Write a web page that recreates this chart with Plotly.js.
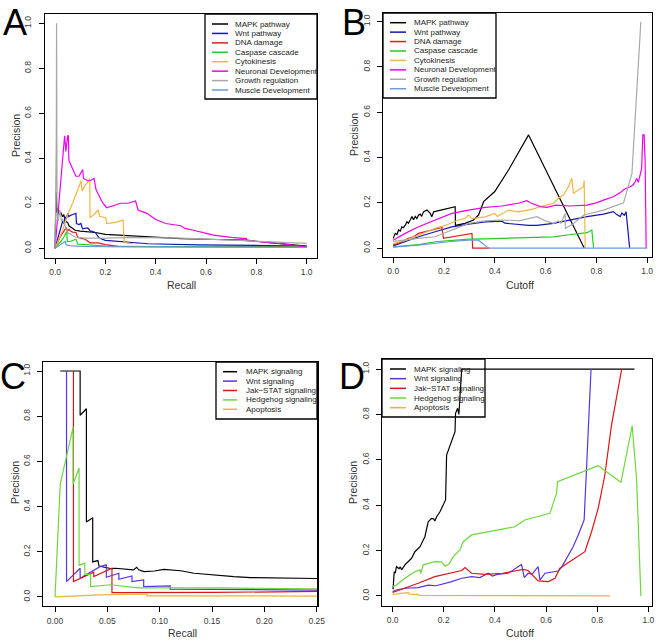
<!DOCTYPE html>
<html><head><meta charset="utf-8">
<script src="https://cdn.plot.ly/plotly-3.0.1.min.js"></script>
<style>html,body{margin:0;padding:0;background:#fff}#chart{width:661px;height:641px}</style>
</head><body><div id="chart"></div>
<script>
// ---------- Panel A: Precision vs Recall (pathways) ----------
const namesAB = ['MAPK pathway','Wnt pathway','DNA damage','Caspase cascade','Cytokinesis','Neuronal Development','Growth regulation','Muscle Development'];
const aMapkX = [0,0.004,0.007,0.012,0.016,0.022,0.03,0.035,0.04,0.05,0.055,0.07,0.08,0.1,0.12,0.14,0.16,0.2,0.26,0.3,0.35,0.42,0.5,0.6,0.7,0.76,0.85,1.0];
const aMapkY = [0,0.25,0.16,0.18,0.15,0.16,0.14,0.15,0.12,0.115,0.1,0.09,0.08,0.076,0.075,0.072,0.07,0.062,0.058,0.055,0.05,0.045,0.043,0.04,0.036,0.036,0.025,0.01];
const aWntX = [0,0.015,0.025,0.03,0.035,0.04,0.045,0.05,0.055,0.06,0.07,0.083,0.085,0.095,0.103,0.109,0.13,0.14,0.16,0.175,0.2,0.25,0.31,0.37,0.57,1.0];
const aWntY = [0,0.06,0.1,0.12,0.11,0.14,0.13,0.155,0.14,0.145,0.15,0.155,0.11,0.105,0.11,0.086,0.09,0.077,0.07,0.045,0.035,0.03,0.024,0.02,0.015,0.01];
const aDnaX = [0,0.02,0.045,0.048,0.055,0.06,0.07,0.083,0.09,0.1,0.12,0.139,0.17,0.2,0.25,0.4,1.0];
const aDnaY = [0,0.05,0.093,0.075,0.085,0.078,0.072,0.07,0.05,0.045,0.04,0.024,0.024,0.016,0.008,0.008,0.007];
const aCaspX = [0,0.03,0.047,0.048,0.06,0.083,0.09,0.12,0.2,0.4,1.0];
const aCaspY = [0,0.04,0.075,0.03,0.03,0.04,0.018,0.015,0.01,0.007,0.005];
const aCytoX = [0,0.013,0.03,0.05,0.07,0.09,0.1,0.104,0.107,0.12,0.134,0.138,0.139,0.155,0.171,0.177,0.202,0.205,0.24,0.27,0.275,0.31];
const aCytoY = [0,0.035,0.08,0.15,0.2,0.26,0.29,0.3,0.255,0.28,0.3,0.31,0.135,0.15,0.17,0.142,0.135,0.11,0.115,0.125,0.025,0.02];
const aNeurX = [0,0.02,0.038,0.043,0.05,0.053,0.055,0.063,0.075,0.083,0.095,0.1,0.11,0.113,0.13,0.14,0.155,0.163,0.177,0.19,0.205,0.23,0.26,0.29,0.32,0.33,0.365,0.4,0.44,0.5,0.516,0.55,0.6,0.63,0.7,0.76,0.762,0.9,1.0];
const aNeurY = [0,0.25,0.5,0.43,0.5,0.5,0.39,0.37,0.34,0.32,0.32,0.33,0.35,0.31,0.3,0.3,0.31,0.26,0.225,0.2,0.18,0.19,0.2,0.2,0.21,0.17,0.155,0.128,0.11,0.1,0.088,0.08,0.066,0.058,0.048,0.043,0.034,0.02,0.006];
const aGrowX = [0,0.005,0.006,0.007,0.008,0.012,0.02,0.025,0.03,0.04,0.05,0.08,0.12,0.2,0.3,0.5,0.7,0.85,1.0];
const aGrowY = [0,0.5,1.0,0.5,0.15,0.12,0.17,0.12,0.13,0.1,0.07,0.05,0.045,0.045,0.048,0.045,0.035,0.03,0.022];
const aMuscX = [0,0.04,0.045,0.06,0.1,0.3,1.0];
const aMuscY = [0,0.03,0.015,0.012,0.008,0.006,0.004];

// ---------- Panel B: Precision vs Cutoff (pathways) ----------
const bMapkX = [0,0.008,0.015,0.021,0.028,0.034,0.04,0.047,0.054,0.06,0.067,0.074,0.08,0.087,0.093,0.1,0.106,0.112,0.119,0.133,0.146,0.152,0.159,0.2,0.244,0.245,0.283,0.316,0.336,0.356,0.4,0.454,0.533,0.752];
const bMapkY = [0.043,0.065,0.06,0.08,0.075,0.094,0.09,0.1,0.116,0.11,0.124,0.139,0.125,0.14,0.13,0.146,0.15,0.14,0.16,0.168,0.153,0.138,0.16,0.172,0.183,0.1,0.109,0.124,0.146,0.205,0.25,0.345,0.5,0];
const bWntX = [0,0.05,0.1,0.165,0.231,0.297,0.362,0.428,0.44,0.533,0.566,0.631,0.697,0.763,0.828,0.867,0.88,0.894,0.9,0.91,0.917,0.92,0.931];
const bWntY = [0.01,0.03,0.05,0.072,0.094,0.106,0.116,0.119,0.11,0.1,0.1,0.109,0.124,0.139,0.15,0.161,0.148,0.139,0.155,0.145,0.161,0.125,0];
const bDnaX = [0,0.034,0.06,0.08,0.1,0.12,0.152,0.178,0.192,0.198,0.251,0.27,0.31,0.313,0.38];
const bDnaY = [0.013,0.028,0.043,0.05,0.065,0.07,0.08,0.087,0.091,0.043,0.053,0.058,0.065,0,0];
const bCaspX = [0,0.1,0.165,0.231,0.297,0.362,0.45,0.5,0.559,0.631,0.7,0.763,0.782,0.789];
const bCaspY = [0.005,0.015,0.028,0.035,0.04,0.041,0.044,0.043,0.047,0.05,0.06,0.068,0.08,0];
const bCytoX = [0,0.05,0.1,0.165,0.205,0.257,0.28,0.297,0.31,0.362,0.4,0.41,0.454,0.49,0.546,0.579,0.631,0.651,0.67,0.69,0.703,0.71,0.749,0.752,0.756];
const bCytoY = [0.02,0.035,0.057,0.087,0.1,0.124,0.13,0.146,0.13,0.138,0.153,0.14,0.168,0.16,0.171,0.183,0.198,0.22,0.234,0.271,0.308,0.242,0.271,0.298,0];
const bNeurX = [0,0.047,0.1,0.165,0.231,0.297,0.362,0.428,0.493,0.526,0.54,0.579,0.605,0.64,0.697,0.763,0.8,0.828,0.867,0.894,0.91,0.933,0.945,0.953,0.959,0.965,0.972,0.978,0.983,0.988,0.992,0.996];
const bNeurY = [0.035,0.065,0.094,0.124,0.153,0.168,0.18,0.186,0.198,0.209,0.2,0.183,0.18,0.19,0.186,0.19,0.2,0.212,0.227,0.245,0.26,0.271,0.28,0.293,0.308,0.29,0.33,0.35,0.5,0.5,0.382,0];
const bGrowX = [0,0.05,0.1,0.165,0.231,0.297,0.362,0.428,0.5,0.559,0.566,0.6,0.631,0.65,0.66,0.677,0.678,0.71,0.75,0.828,0.907,0.94,0.975];
const bGrowY = [0.03,0.035,0.043,0.05,0.08,0.109,0.12,0.124,0.121,0.136,0.139,0.12,0.109,0.12,0.11,0.153,0.087,0.109,0.146,0.168,0.2,0.33,1.0];
const bMuscX = [0,0.1,0.218,0.297,0.336,0.375,1.0];
const bMuscY = [0.004,0.013,0.028,0.035,0.035,0,0];

// ---------- Panel C: Precision vs Recall (signaling) ----------
const namesCD = ['MAPK signaling','Wnt signaling','Jak\u2212STAT signaling','Hedgehog signaling','Apoptosis'];
const cMapkX = [0.005,0.024,0.024,0.03,0.03,0.036,0.036,0.041,0.042,0.054,0.0575,0.065,0.075,0.078,0.08,0.085,0.095,0.104,0.12,0.133,0.152,0.171,0.187,0.26];
const cMapkY = [1.0,1.0,0.804,0.833,0.332,0.35,0.155,0.161,0.137,0.125,0.127,0.125,0.12,0.131,0.12,0.112,0.115,0.122,0.116,0.105,0.097,0.09,0.086,0.081];
const cWntX = [0.011,0.011,0.024,0.024,0.043,0.049,0.049,0.061,0.061,0.0735,0.0735,0.0847,0.0847,0.11,0.11,0.26];
const cWntY = [1.0,0.068,0.127,0.083,0.134,0.142,0.087,0.105,0.078,0.093,0.068,0.075,0.046,0.049,0.035,0.03];
const cJakX = [0.0176,0.0176,0.037,0.037,0.0544,0.0544,0.15,0.26];
const cJakY = [1.0,0.068,0.11,0.09,0.127,0.019,0.02,0.025];
const cHedgX = [0,0.005,0.0173,0.0173,0.023,0.023,0.0285,0.0285,0.034,0.034,0.053,0.079,0.16,0.26];
const cHedgY = [0,0.5,0.752,0.5,0.571,0.14,0.15,0.1,0.1,0.046,0.054,0.04,0.04,0.035];
const cApopX = [0,0.043,0.088,0.088,0.26];
const cApopY = [0,0.009,0.013,0.005,0.004];

// ---------- Panel D: Precision vs Cutoff (signaling) ----------
const dMapkX = [0,0.002,0.006,0.01,0.015,0.025,0.03,0.035,0.048,0.061,0.074,0.087,0.107,0.126,0.139,0.152,0.16,0.165,0.172,0.185,0.198,0.207,0.211,0.231,0.244,0.246,0.254,0.259,0.263,0.27,0.946];
const dMapkY = [0.03,0.034,0.107,0.1,0.129,0.12,0.128,0.115,0.137,0.151,0.166,0.195,0.217,0.261,0.327,0.342,0.34,0.33,0.349,0.371,0.401,0.423,0.621,0.68,0.724,0.805,0.827,0.8,0.871,1.0,1.0];
const dWntX = [0,0.01,0.048,0.1,0.139,0.17,0.231,0.27,0.309,0.341,0.374,0.39,0.41,0.452,0.504,0.515,0.53,0.545,0.569,0.576,0.596,0.648,0.66,0.68,0.706,0.726,0.749,0.759,0.776];
const dWntY = [0.019,0.025,0.034,0.037,0.048,0.045,0.063,0.078,0.085,0.081,0.1,0.088,0.095,0.1,0.139,0.081,0.1,0.095,0.129,0.07,0.1,0.11,0.125,0.166,0.217,0.269,0.335,0.577,1.0];
const dJakX = [0,0.01,0.048,0.1,0.165,0.231,0.27,0.283,0.309,0.361,0.43,0.511,0.53,0.569,0.609,0.635,0.654,0.752,0.778,0.804,0.83,0.856,0.896];
const dJakY = [0.015,0.019,0.034,0.056,0.085,0.1,0.112,0.125,0.1,0.095,0.1,0.117,0.112,0.066,0.063,0.078,0.122,0.195,0.283,0.386,0.533,0.753,1.0];
const dHedgX = [0,0.015,0.048,0.087,0.107,0.11,0.12,0.165,0.19,0.205,0.22,0.237,0.263,0.276,0.309,0.478,0.517,0.615,0.641,0.645,0.804,0.893,0.937,0.954,0.971];
const dHedgY = [0.041,0.048,0.078,0.107,0.115,0.1,0.137,0.151,0.15,0.132,0.14,0.173,0.203,0.239,0.269,0.305,0.335,0.364,0.452,0.504,0.574,0.501,0.75,0.518,0];
const dApopX = [0,0.035,0.061,0.065,0.1,0.105,0.85];
const dApopY = [0.007,0.012,0.015,0.008,0.007,0.002,0];

// ---------- styles ----------
const colAB = ['#000000','#1414b8','#e01c1c','#22cc22','#f2b640','#ee00ee','#a8a8a8','#6d9bd6'];
const colCD = ['#000000','#5a32e6','#dd1414','#6ad83a','#f2b030'];

const W = 661, H = 641;
const PX = v => v / W, PY = v => 1 - v / H;

const seriesA = [[aMapkX,aMapkY],[aWntX,aWntY],[aDnaX,aDnaY],[aCaspX,aCaspY],[aCytoX,aCytoY],[aNeurX,aNeurY],[aGrowX,aGrowY],[aMuscX,aMuscY]];
const seriesB = [[bMapkX,bMapkY],[bWntX,bWntY],[bDnaX,bDnaY],[bCaspX,bCaspY],[bCytoX,bCytoY],[bNeurX,bNeurY],[bGrowX,bGrowY],[bMuscX,bMuscY]];
const seriesC = [[cMapkX,cMapkY],[cWntX,cWntY],[cJakX,cJakY],[cHedgX,cHedgY],[cApopX,cApopY]];
const seriesD = [[dMapkX,dMapkY],[dWntX,dWntY],[dJakX,dJakY],[dHedgX,dHedgY],[dApopX,dApopY]];

const traces = [];
function addSeries(list, names, cols, xa, ya) {
  list.forEach((s, i) => {
    traces.push({x: s[0], y: s[1], type: 'scatter', mode: 'lines', name: names[i],
      xaxis: xa, yaxis: ya, line: {color: cols[i], width: 1.2}, showlegend: false, hoverinfo: 'skip'});
  });
}
addSeries(seriesA, namesAB, colAB, 'x', 'y');
addSeries(seriesB, namesAB, colAB, 'x2', 'y2');
addSeries(seriesC, namesCD, colCD, 'x3', 'y3');
addSeries(seriesD, namesCD, colCD, 'x4', 'y4');

const tickFont = {family: 'Liberation Sans, Arial, sans-serif', size: 8.5, color: '#3a3a3a'};
function xax(domain, range, dtick, fmt, anchor) {
  return {domain: domain, range: range, anchor: anchor, dtick: dtick, tick0: 0, tickformat: fmt,
    showgrid: false, zeroline: false, showline: true, mirror: true, linecolor: '#000', linewidth: 1.3,
    ticks: 'outside', ticklen: 5, tickwidth: 1, tickcolor: '#000', tickfont: tickFont, ticklabelstandoff: 1};
}
function yax(domain, range, anchor) {
  return {domain: domain, range: range, anchor: anchor, dtick: 0.2, tick0: 0, tickformat: '.1f', tickangle: -90,
    showgrid: false, zeroline: false, showline: true, mirror: true, linecolor: '#000', linewidth: 1.3,
    ticks: 'outside', ticklen: 5, tickwidth: 1, tickcolor: '#000', tickfont: tickFont, ticklabelstandoff: 4};
}

const shapes = [], annotations = [];
const legFont = {family: 'Liberation Sans, Arial, sans-serif', size: 8, color: '#222'};
function legend(names, cols, box, y0, step, sx0, sx1, tx) {
  shapes.push({type: 'rect', xref: 'paper', yref: 'paper', x0: PX(box[0]), x1: PX(box[2]), y0: PY(box[3]), y1: PY(box[1]),
    line: {color: '#000', width: 1.3}, fillcolor: 'rgba(0,0,0,0)'});
  names.forEach((n, i) => {
    const yy = y0 + i * step;
    shapes.push({type: 'line', xref: 'paper', yref: 'paper', x0: PX(sx0), x1: PX(sx1), y0: PY(yy), y1: PY(yy),
      line: {color: cols[i], width: 1.5}});
    annotations.push({xref: 'paper', yref: 'paper', x: PX(tx), y: PY(yy), text: n, showarrow: false,
      xanchor: 'left', yanchor: 'middle', font: legFont});
  });
}
legend(namesAB, colAB, [205, 14, 317, 99], 24, 9.43, 212, 228, 233);
legend(namesAB, colAB, [383, 13, 496, 98], 22.7, 9.43, 390, 406, 412);
legend(namesCD, colCD, [216, 362, 317, 419], 371.7, 9.4, 223, 237, 244);
legend(namesCD, colCD, [382, 359, 485, 417], 369, 9.67, 390, 406, 412);

const titleFont = {family: 'Liberation Sans, Arial, sans-serif', size: 10.5, color: '#333'};
function label(text, x, y, angle) {
  annotations.push({xref: 'paper', yref: 'paper', x: PX(x), y: PY(y), text: text, showarrow: false,
    xanchor: 'center', yanchor: 'middle', textangle: angle || 0, font: titleFont});
}
label('Recall', 181, 285); label('Precision', 16, 136, -90);
label('Cutoff', 520, 285); label('Precision', 354, 135, -90);
label('Recall', 182, 633); label('Precision', 15, 483, -90);
label('Cutoff', 520, 633); label('Precision', 353, 483, -90);

const letterFont = {family: 'Liberation Sans, Arial, sans-serif', size: 36, color: '#000'};
[['A', 15, 23], ['B', 354, 23], ['C', 13, 376], ['D', 352, 376]].forEach(l => {
  annotations.push({xref: 'paper', yref: 'paper', x: PX(l[1]), y: PY(l[2]), text: l[0], showarrow: false,
    xanchor: 'center', yanchor: 'middle', borderpad: 0, font: letterFont});
});

const layout = {
  width: W, height: H, margin: {l: 0, r: 0, t: 0, b: 0},
  paper_bgcolor: '#fff', plot_bgcolor: '#fff', showlegend: false,
  xaxis: xax([45/W, 316.7/W], [-0.04, 1.04], 0.2, '.1f', 'y'),
  yaxis: yax([1-257.7/H, 1-14/H], [-0.042, 1.041], 'x'),
  xaxis2: xax([383.3/W, 652/W], [-0.039, 1.019], 0.2, '.1f', 'y2'),
  yaxis2: yax([1-256.7/H, 1-13.3/H], [-0.038, 1.037], 'x2'),
  xaxis3: xax([43.3/W, 317.3/W], [-0.0112, 0.2506], 0.05, '.2f', 'y3'),
  yaxis3: yax([1-606/H, 1-362.3/H], [-0.04, 1.0385], 'x3'),
  xaxis4: xax([382.3/W, 651.7/W], [-0.0405, 1.0133], 0.2, '.1f', 'y4'),
  yaxis4: yax([1-605.7/H, 1-359.3/H], [-0.043, 1.043], 'x4'),
  shapes: shapes, annotations: annotations
};
Plotly.newPlot('chart', traces, layout, {displayModeBar: false, staticPlot: true});
</script></body></html>
